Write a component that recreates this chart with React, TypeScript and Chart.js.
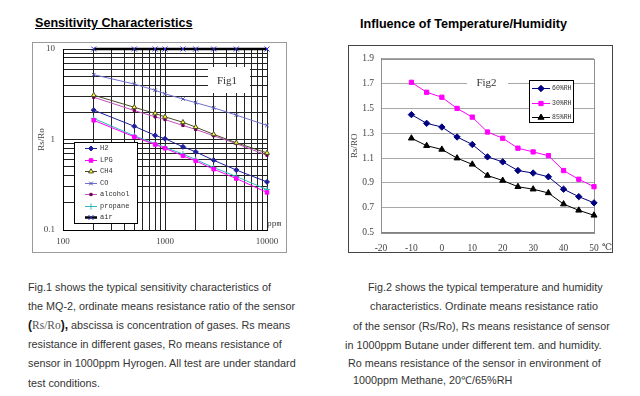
import React, { useEffect, useRef } from 'react';
import { Chart, registerables } from 'chart.js';
import { drawPoint } from 'chart.js/helpers';

Chart.register(...registerables);

// ---------- Fig.1 : sensitivity characteristics ----------
const ppm = [200, 500, 800, 1000, 1500, 2000, 3000, 5000, 10000];
const h2 = [2.11, 1.4, 1.11, 1.02, 0.83, 0.73, 0.59, 0.46, 0.34];
const lpg = [1.63, 1.07, 0.88, 0.8, 0.66, 0.58, 0.47, 0.37, 0.26];
const ch4 = [3.09, 2.27, 1.94, 1.78, 1.55, 1.37, 1.14, 0.92, 0.71];
const co = [5.2, 4.1, 3.5, 3.2, 2.8, 2.55, 2.24, 1.86, 1.43];
const alcohol = [2.93, 2.09, 1.78, 1.66, 1.43, 1.29, 1.1, 0.9, 0.67];
const propane = [1.71, 1.1, 0.9, 0.82, 0.69, 0.6, 0.49, 0.39, 0.28];
const air = [10, 10, 10, 10, 10, 10, 10, 10, 10];
const gasNames = ['H2', 'LPG', 'CH4', 'CO', 'alcohol', 'propane', 'air'];
const fig1XTicks = [100, 1000, 10000];
const fig1XLabels = ['100', '1000', '10000'];
const fig1YTicks = [0.1, 1, 10];
const fig1YLabels = ['0.1', '1', '10'];

// ---------- Fig.2 : temperature / humidity ----------
const temps = [-10, -5, 0, 5, 10, 15, 20, 25, 30, 35, 40, 45, 50];
const rh60 = [1.45, 1.38, 1.35, 1.27, 1.21, 1.11, 1.07, 1.0, 0.98, 0.95, 0.85, 0.79, 0.74];
const rh30 = [1.71, 1.63, 1.59, 1.5, 1.43, 1.31, 1.26, 1.18, 1.15, 1.12, 1.0, 0.93, 0.87];
const rh85 = [1.26, 1.2, 1.17, 1.1, 1.05, 0.96, 0.92, 0.87, 0.85, 0.82, 0.73, 0.68, 0.64];
const rhNames = ['60%RH', '30%RH', '85%RH'];
const fig2XTicks = [-20, -10, 0, 10, 20, 30, 40, 50];
const fig2YTicks = [0.5, 0.7, 0.9, 1.1, 1.3, 1.5, 1.7, 1.9];

const leftText = [
  'Fig.1 shows the typical sensitivity characteristics of',
  'the MQ-2, ordinate means resistance ratio of the sensor',
  null,
  'resistance in different gases, Ro means resistance of',
  'sensor in 1000ppm Hyrogen. All test are under standard',
  'test conditions.',
];
const rightText = [
  'Fig.2 shows the typical temperature and humidity',
  'characteristics. Ordinate means resistance ratio',
  'of the sensor (Rs/Ro), Rs means resistance of sensor',
  'in 1000ppm Butane under different tem. and humidity.',
  'Ro means resistance of the sensor in environment of',
  '1000ppm Methane, 20\u2103/65%RH',
];

const serif = '"Liberation Serif", "DejaVu Serif", serif';
const mono = '"Liberation Mono", "DejaVu Sans Mono", monospace';
const sans = '"Liberation Sans", Arial, sans-serif';

function logGrid(min: number, max: number) {
  const out: number[] = [];
  const e0 = Math.round(Math.log10(min));
  const e1 = Math.round(Math.log10(max));
  for (let e = e0; e < e1; e++) {
    for (let m = 1; m <= 9; m++) out.push(+(m * Math.pow(10, e)).toPrecision(6));
  }
  out.push(max);
  return out;
}

function pairs(xs: number[], ys: number[]) {
  return xs.map((x, i) => ({ x, y: ys[i] }));
}

function drawLegend(chart: any, box: any) {
  const { ctx, chartArea: a } = chart;
  ctx.save();
  const bx = Math.round(a.left + box.x) + 0.5;
  const by = Math.round(a.top + box.y) + 0.5;
  ctx.fillStyle = '#fff';
  ctx.fillRect(bx, by, box.w, box.h);
  ctx.strokeStyle = '#000';
  ctx.lineWidth = 1;
  ctx.strokeRect(bx, by, box.w, box.h);
  chart.data.datasets.forEach((ds: any, i: number) => {
    const y = Math.round(a.top + box.row0 + i * box.step) + 0.5;
    ctx.strokeStyle = ds.borderColor;
    ctx.lineWidth = ds.borderWidth;
    ctx.beginPath();
    ctx.moveTo(a.left + box.l0, y);
    ctx.lineTo(a.left + box.l1, y);
    ctx.stroke();
    ctx.fillStyle = ds.pointBackgroundColor;
    ctx.strokeStyle = ds.pointBorderColor;
    ctx.lineWidth = 1;
    drawPoint(ctx, { pointStyle: ds.pointStyle, radius: ds.pointRadius, rotation: 0, borderWidth: 1 } as any,
      a.left + (box.l0 + box.l1) / 2, y);
    ctx.fillStyle = '#333';
    ctx.font = box.font;
    ctx.textAlign = 'left';
    ctx.textBaseline = 'middle';
    ctx.fillText(ds.label, a.left + box.tx, y);
  });
  ctx.restore();
}

function ds(label: string, data: any, line: string, width: number, style: string, radius: number, bg: string, border: string) {
  return {
    label, data, borderColor: line, borderWidth: width, pointStyle: style, pointRadius: radius,
    pointBackgroundColor: bg, pointBorderColor: border, pointBorderWidth: 1, tension: 0, clip: false as any,
  };
}

const fitY = (w: number) => (s: any) => { s.width = w; s.paddingTop = 0; s.paddingBottom = 0; };
const fitX = (h: number) => (s: any) => { s.height = h; s.paddingLeft = 0; s.paddingRight = 0; };

export default function App() {
  const c1 = useRef<HTMLCanvasElement>(null);
  const c2 = useRef<HTMLCanvasElement>(null);

  useEffect(() => {
    const fig1Overlay = {
      id: 'fig1Overlay',
      beforeDatasetsDraw(chart: any) {
        const { ctx, chartArea: a } = chart;
        ctx.save();
        ctx.fillStyle = '#fff';
        ctx.fillRect(a.left + 145, a.top + 18, 42, 26);
        ctx.fillStyle = '#333';
        ctx.font = `11px ${serif}`;
        ctx.textAlign = 'center';
        ctx.textBaseline = 'middle';
        ctx.fillText('Fig1', a.left + 164, a.top + 32);
        ctx.font = `8px ${mono}`;
        ctx.textAlign = 'left';
        ctx.fillText('ppm', a.right, a.bottom - 6);
        ctx.restore();
      },
      afterDatasetsDraw(chart: any) {
        drawLegend(chart, { x: 11, y: 93, w: 63, h: 81, row0: 99.3, step: 11.5, l0: 22, l1: 34, tx: 37, font: `7px ${mono}` });
      },
    };

    const colors1 = [
      ['#20209a', 1, 'rectRot', 2.5, '#20209a', '#20209a'],
      ['#ff00ff', 1, 'rect', 2.5, '#ff00ff', '#ff00ff'],
      ['#4a4a2a', 1, 'triangle', 2.8, '#ffff40', '#4a4a2a'],
      ['#7070d0', 1, 'crossRot', 2.5, '#7070d0', '#5050b0'],
      ['#c050c0', 1, 'rect', 1.6, '#700050', '#700050'],
      ['#30b8b8', 1, 'cross', 3, '#30b8b8', '#30b8b8'],
      ['#000000', 2.5, 'crossRot', 3.5, '#3030d0', '#3030d0'],
    ];
    const series1 = [h2, lpg, ch4, co, alcohol, propane, air];

    const chart1 = new Chart(c1.current!, {
      type: 'line',
      data: {
        datasets: series1.map((s, i) => {
          const c: any = colors1[i];
          return ds(gasNames[i], pairs(ppm, s), c[0], c[1], c[2], c[3], c[4], c[5]);
        }),
      },
      options: {
        responsive: false,
        animation: false,
        layout: { padding: { left: 0, top: 6, right: 19, bottom: 0 } },
        plugins: { legend: { display: false }, tooltip: { enabled: false } },
        scales: {
          x: {
            type: 'logarithmic', min: 100, max: 10000,
            afterBuildTicks: (s: any) => { s.ticks = logGrid(100, 10000).map((v) => ({ value: v })); },
            afterFit: fitX(22),
            grid: { color: '#222', lineWidth: 1, drawTicks: false },
            border: { color: '#000', width: 1 },
            ticks: {
              autoSkip: false, maxRotation: 0, padding: 6, color: '#444', font: { family: serif, size: 9 },
              callback: (v: any) => { const i = fig1XTicks.indexOf(Number(v)); return i >= 0 ? fig1XLabels[i] : ''; },
            },
          },
          y: {
            type: 'logarithmic', min: 0.1, max: 10,
            afterBuildTicks: (s: any) => { s.ticks = logGrid(0.1, 10).map((v) => ({ value: v })); },
            afterFit: fitY(30),
            grid: { color: '#222', lineWidth: 1, drawTicks: false },
            border: { color: '#000', width: 1 },
            title: { display: true, text: 'Rs/Ro', color: '#444', font: { family: serif, size: 9 }, padding: { top: 3, bottom: 0 } },
            ticks: {
              autoSkip: false, padding: 8, color: '#444', font: { family: serif, size: 9 },
              callback: (v: any) => { const i = fig1YTicks.indexOf(Number(v)); return i >= 0 ? fig1YLabels[i] : ''; },
            },
          },
        },
      } as any,
      plugins: [fig1Overlay],
    });

    const fig2Overlay = {
      id: 'fig2Overlay',
      beforeDatasetsDraw(chart: any) {
        const { ctx, chartArea: a } = chart;
        ctx.save();
        ctx.strokeStyle = '#909090';
        ctx.lineWidth = 1;
        ctx.strokeRect(Math.round(a.left) + 0.5, Math.round(a.top) + 0.5, Math.round(a.right - a.left), Math.round(a.bottom - a.top));
        ctx.fillStyle = '#fff';
        ctx.fillRect(a.left + 86, a.top + 17, 41, 14);
        ctx.fillStyle = '#333';
        ctx.font = `11px ${serif}`;
        ctx.textAlign = 'center';
        ctx.textBaseline = 'middle';
        ctx.fillText('Fig2', a.left + 105.5, a.top + 24);
        ctx.font = `9px ${serif}`;
        ctx.fillText('\u2103', a.right + 13, a.bottom + 15);
        ctx.restore();
      },
      afterDatasetsDraw(chart: any) {
        drawLegend(chart, { x: 148, y: 21, w: 44, h: 42, row0: 29.6, step: 14.2, l0: 151, l1: 169, tx: 171, font: `6.5px ${mono}` });
      },
    };

    const colors2 = [
      ['#000080', 1, 'rectRot', 3.2, '#000080', '#000080'],
      ['#ff00ff', 1, 'rect', 3, '#ff00ff', '#ff00ff'],
      ['#000000', 1, 'triangle', 3.5, '#000000', '#000000'],
    ];
    const series2 = [rh60, rh30, rh85];

    const chart2 = new Chart(c2.current!, {
      type: 'line',
      data: {
        datasets: series2.map((s, i) => {
          const c: any = colors2[i];
          return ds(rhNames[i], pairs(temps, s), c[0], c[1], c[2], c[3], c[4], c[5]);
        }),
      },
      options: {
        responsive: false,
        animation: false,
        layout: { padding: { left: 0, top: 12.7, right: 18, bottom: 0 } },
        plugins: { legend: { display: false }, tooltip: { enabled: false } },
        scales: {
          x: {
            type: 'linear', min: -20, max: 50,
            afterBuildTicks: (s: any) => { s.ticks = fig2XTicks.map((v) => ({ value: v })); },
            afterFit: fitX(19.3),
            grid: { drawOnChartArea: false, drawTicks: false },
            border: { color: '#808080', width: 1 },
            ticks: { autoSkip: false, maxRotation: 0, padding: 10, color: '#444', font: { family: serif, size: 9.5 } },
          },
          y: {
            type: 'linear', min: 0.5, max: 1.9,
            afterBuildTicks: (s: any) => { s.ticks = fig2YTicks.map((v) => ({ value: v })); },
            afterFit: fitY(32),
            grid: { color: '#a8a8a8', lineWidth: 1, drawTicks: false },
            border: { color: '#808080', width: 1 },
            title: { display: true, text: 'Rs/RO', color: '#444', font: { family: serif, size: 9 }, padding: { top: 0.6, bottom: 0 } },
            ticks: {
              autoSkip: false, padding: 7, color: '#444', font: { family: serif, size: 9.5 },
              callback: (v: any) => Number(v).toFixed(1),
            },
          },
        },
      } as any,
      plugins: [fig2Overlay],
    });

    return () => {
      chart1.destroy();
      chart2.destroy();
    };
  }, []);

  const line = (top: number, left: number, content: any, key: number) => (
    <div key={key} style={{ position: 'absolute', left, top, whiteSpace: 'pre', fontSize: 10.8, lineHeight: '14px', color: '#333', fontFamily: sans }}>
      {content}
    </div>
  );
  const leftBase = [290.3, 309.5, 328.7, 347.9, 367.1, 386.3];
  const rightBase = [291, 310, 329.3, 348.3, 366.7, 383.5];
  const rightLeft = [368, 370, 353, 345, 348, 353];

  return (
    <div style={{ position: 'absolute', left: 0, top: 0, width: 640, height: 396, background: '#fff', overflow: 'hidden', fontFamily: sans }}>
      <div style={{ position: 'absolute', left: 35, top: 16, fontSize: 12.6, lineHeight: '14px', fontWeight: 'bold', textDecoration: 'underline', color: '#000', whiteSpace: 'pre' }}>
        Sensitivity Characteristics
      </div>
      <div style={{ position: 'absolute', left: 360, top: 16.5, fontSize: 12.6, lineHeight: '14px', fontWeight: 'bold', color: '#000', whiteSpace: 'pre' }}>
        Influence of Temperature/Humidity
      </div>
      <div style={{ position: 'absolute', left: 32, top: 42, width: 253, height: 209, border: '1px solid #9a9a9a' }}>
        <canvas ref={c1} width={253} height={209} style={{ display: 'block' }} />
      </div>
      <div style={{ position: 'absolute', left: 348, top: 45, width: 263, height: 206, border: '1px solid #444' }}>
        <canvas ref={c2} width={263} height={206} style={{ display: 'block' }} />
      </div>
      {leftText.map((t, i) =>
        line(leftBase[i] - 10.7, 28,
          t !== null ? t : (
            <span>
              <span style={{ fontWeight: 'bold', fontSize: 12, color: '#111' }}>(</span>
              <span style={{ fontFamily: serif, fontSize: 11.5, color: '#555' }}>Rs/Ro</span>
              <span style={{ fontWeight: 'bold', fontSize: 12, color: '#111' }}>),</span>
              {' abscissa is concentration of gases. Rs means'}
            </span>
          ), i))}
      {rightText.map((t, i) => line(rightBase[i] - 10.7, rightLeft[i], t, 10 + i))}
    </div>
  );
}
